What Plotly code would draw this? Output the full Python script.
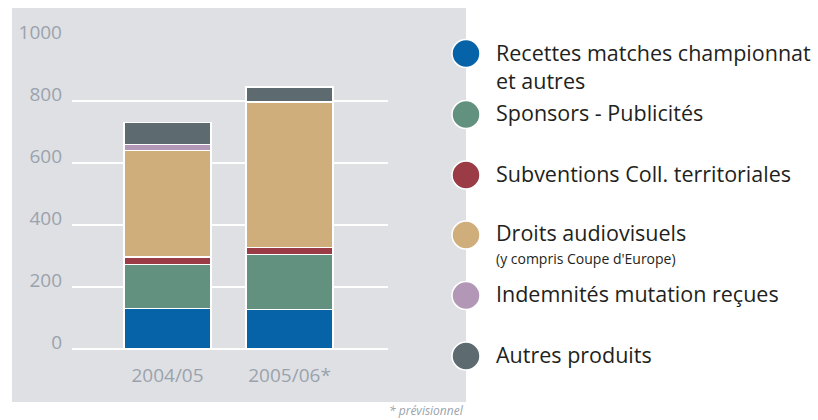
import plotly.graph_objects as go

categories = ["2004/05", "2005/06*"]
series_names = [
    "Recettes matches championnat<br>et autres",
    "Sponsors - Publicités",
    "Subventions Coll. territoriales",
    "Droits audiovisuels",
    "Indemnités mutation reçues",
    "Autres produits",
]
recettes = [130, 128]
sponsors = [143, 176]
subventions = [24, 24]
droits = [344, 466]
indemnites = [19, 5]
autres = [70, 46]
series_values = [recettes, sponsors, subventions, droits, indemnites, autres]
colors = ["#0763a8", "#63917f", "#9b3b45", "#d0ae7c", "#b397b6", "#5d6b71"]
y_ticks = [0, 200, 400, 600, 800, 1000]
note_droits = "(y compris Coupe d'Europe)"
footnote = "* prévisionnel"

W, H = 818, 420
L, R, T, B = 72, 388, 39, 349  # plot area in pixels


def px(x):
    return (x - L) / (R - L)


def py(y):
    return (B - y) / (B - T)


fig = go.Figure()
for name, vals, col in zip(series_names, series_values, colors):
    fig.add_trace(go.Bar(
        x=categories, y=vals, name=name.replace("<br>", " "),
        marker=dict(color=col, line=dict(color="white", width=1.2)),
        width=0.713,
    ))

shapes = [dict(type="rect", xref="paper", yref="paper",
               x0=px(12), x1=px(466), y0=py(402), y1=py(8),
               fillcolor="#dfe0e4", line=dict(width=0), layer="below")]
annotations = []
leg_y = [53.5, 114.5, 175, 235, 295.5, 356]
fs = 21.5
half_line = 14
for i, (name, col) in enumerate(zip(series_names, colors)):
    cy = leg_y[i]
    r = 14
    shapes.append(dict(type="circle", xref="paper", yref="paper",
                       x0=px(466 - r), x1=px(466 + r), y0=py(cy + r), y1=py(cy - r),
                       fillcolor=col, line=dict(color="white", width=1.5), layer="above"))
    n = len(name.split("<br>"))
    annotations.append(dict(
        x=px(496), y=py(cy - 2 + (n - 1) * half_line + (n - 1)), xref="paper", yref="paper",
        xanchor="left", yanchor="middle", align="left", showarrow=False,
        text=name, font=dict(family="Open Sans", size=fs, color="#231f20"),
        xshift=-2,
    ))
annotations.append(dict(
    x=px(496), y=py(258.5), xref="paper", yref="paper",
    xanchor="left", yanchor="middle", showarrow=False, xshift=-2,
    text=note_droits, font=dict(family="Open Sans", size=14, color="#231f20"),
))
annotations.append(dict(
    x=px(466), y=py(410), xref="paper", yref="paper",
    xanchor="right", yanchor="middle", showarrow=False,
    text="<i>" + footnote + "</i>", font=dict(family="Open Sans", size=12, color="#9aa3ad"),
))

fig.update_layout(
    width=W, height=H,
    margin=dict(l=L, r=W - R, t=T, b=H - B, pad=0, autoexpand=False),
    barmode="stack", bargap=0.29,
    showlegend=False,
    paper_bgcolor="white", plot_bgcolor="rgba(0,0,0,0)",
    shapes=shapes, annotations=annotations,
    xaxis=dict(range=[-0.783, 1.807], showgrid=False, zeroline=False, showline=False,
               ticks="", ticklabelstandoff=13, automargin=False,
               tickfont=dict(family="Open Sans", size=19, color="#9aa3ad")),
    yaxis=dict(range=[0, 1000], tickvals=y_ticks, showgrid=True, gridcolor="white",
               gridwidth=1.5, zeroline=True, zerolinecolor="white", zerolinewidth=1.5,
               showline=False, ticks="", ticklabelstandoff=9, ticklabelshift=-7,
               automargin=False,
               tickfont=dict(family="Open Sans", size=19, color="#9aa3ad")),
)

fig.write_html("out.html", config={"displayModeBar": False},
               post_script="document.body.style.margin='0';")
